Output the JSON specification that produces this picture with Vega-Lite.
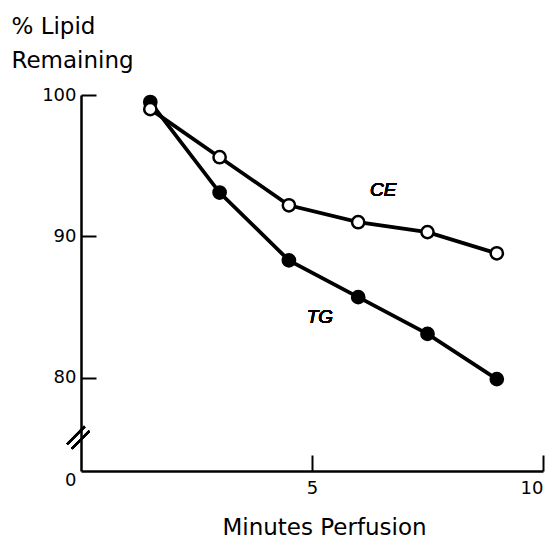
{
  "$schema": "https://vega.github.io/schema/vega-lite/v6.json",
  "width": 462,
  "height": 376,
  "autosize": {"type": "none"},
  "padding": {"left": 81, "top": 95, "right": 13, "bottom": 69},
  "background": "white",
  "config": {
    "view": {"stroke": null},
    "font": "DejaVu Sans",
    "axis": {
      "grid": false,
      "domainColor": "black",
      "domainWidth": 2.5,
      "tickColor": "black",
      "tickWidth": 2,
      "labelColor": "black",
      "labelFont": "DejaVu Sans",
      "labelFontSize": 18,
      "titleColor": "black",
      "titleFont": "DejaVu Sans",
      "titleFontWeight": "normal"
    }
  },
  "data": {
    "values": [
      {"series": "TG", "minutes": 1.5, "lipid": 99.5},
      {"series": "TG", "minutes": 3.0, "lipid": 93.1},
      {"series": "TG", "minutes": 4.5, "lipid": 88.3},
      {"series": "TG", "minutes": 6.0, "lipid": 85.7},
      {"series": "TG", "minutes": 7.5, "lipid": 83.1},
      {"series": "TG", "minutes": 9.0, "lipid": 79.9},
      {"series": "CE", "minutes": 1.5, "lipid": 99.0},
      {"series": "CE", "minutes": 3.0, "lipid": 95.6},
      {"series": "CE", "minutes": 4.5, "lipid": 92.2},
      {"series": "CE", "minutes": 6.0, "lipid": 91.0},
      {"series": "CE", "minutes": 7.5, "lipid": 90.3},
      {"series": "CE", "minutes": 9.0, "lipid": 88.8}
    ]
  },
  "encoding": {
    "x": {
      "field": "minutes",
      "type": "quantitative",
      "scale": {"domain": [0, 10], "nice": false},
      "axis": {
        "values": [5, 10],
        "tickSize": -16,
        "labelPadding": 24,
        "title": "Minutes  Perfusion",
        "titleFontSize": 23,
        "titleX": 243,
        "titleY": 63,
        "titleAlign": "center",
        "titleBaseline": "alphabetic",
        "titleAnchor": null
      }
    },
    "y": {
      "field": "lipid",
      "type": "quantitative",
      "scale": {"domain": [73.4, 100], "nice": false, "zero": false},
      "axis": {
        "values": [73.4, 80, 90, 100],
        "labelExpr": "datum.value < 75 ? '0' : datum.label",
        "tickSize": -15,
        "tickOpacity": {"condition": {"test": "datum.value < 75", "value": 0}, "value": 1},
        "labelPadding": 20,
        "labelBaseline": {"condition": {"test": "datum.value < 75", "value": "top"}, "value": "middle"},
        "title": ["% Lipid", "Remaining"],
        "titleFontSize": 23,
        "titleAngle": 0,
        "titleAlign": "left",
        "titleBaseline": "alphabetic",
        "titleX": -70,
        "titleY": -62,
        "titleLineHeight": 34
      }
    }
  },
  "layer": [
    {
      "mark": {"type": "line", "color": "black", "strokeWidth": 3.8},
      "encoding": {"detail": {"field": "series"}}
    },
    {
      "mark": {"type": "point", "shape": "circle", "filled": true, "size": 150, "stroke": "black", "strokeWidth": 2.5, "opacity": 1},
      "encoding": {
        "fill": {"field": "series", "type": "nominal", "scale": {"domain": ["TG", "CE"], "range": ["black", "white"]}, "legend": null}
      }
    },
    {
      "mark": {"type": "rule", "color": "black", "strokeWidth": 2},
      "encoding": {
        "x": {"datum": -0.3, "type": "quantitative"},
        "y": {"datum": 75.3, "type": "quantitative"},
        "x2": {"datum": 0.08},
        "y2": {"datum": 76.55}
      }
    },
    {
      "mark": {"type": "rule", "color": "black", "strokeWidth": 2},
      "encoding": {
        "x": {"datum": -0.2, "type": "quantitative"},
        "y": {"datum": 74.98, "type": "quantitative"},
        "x2": {"datum": 0.18},
        "y2": {"datum": 76.23}
      }
    },
    {
      "mark": {"type": "text", "fontStyle": "italic", "fontSize": 19, "font": "Liberation Sans", "fontWeight": "normal", "color": "black"},
      "encoding": {
        "x": {"datum": 6.54, "type": "quantitative"},
        "y": {"datum": 93.3, "type": "quantitative"},
        "text": {"value": "CE"}
      }
    },
    {
      "mark": {"type": "text", "fontStyle": "italic", "fontSize": 19, "font": "Liberation Sans", "fontWeight": "normal", "color": "black"},
      "encoding": {
        "x": {"datum": 5.17, "type": "quantitative"},
        "y": {"datum": 84.3, "type": "quantitative"},
        "text": {"value": "TG"}
      }
    }
  ]
}
